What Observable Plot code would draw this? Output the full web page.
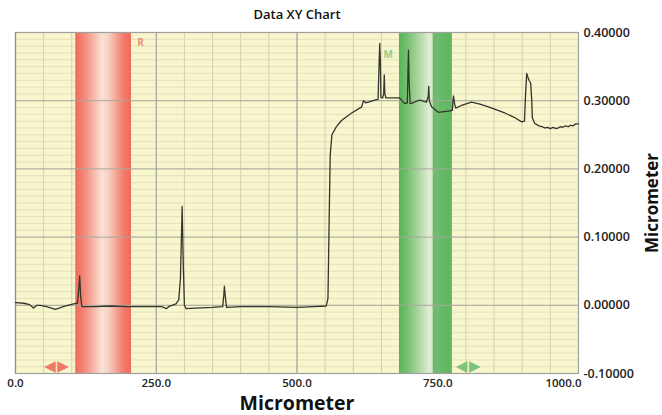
<!DOCTYPE html>
<html>
<head>
<meta charset="utf-8">
<script src="https://cdn.jsdelivr.net/npm/d3@7"></script>
<script src="https://cdn.jsdelivr.net/npm/@observablehq/plot@0.6"></script>
<style>
  html, body { margin: 0; padding: 0; background: #fff; }
</style>
</head>
<body>
<div id="chart"></div>
<script>
const title = "Data XY Chart";
const xLabel = "Micrometer";
const yLabel = "Micrometer";

const xs = [0, 15, 25, 32, 38, 44, 55, 71, 85, 103, 110, 112, 114, 116, 118, 140, 170, 200, 230, 260, 268, 272, 285, 290, 293, 296, 298, 300, 303, 320, 350, 368, 370, 371, 373, 375, 400, 450, 500, 530, 552, 555, 557, 559, 562, 570, 579, 597, 615, 618, 622, 627, 638, 644, 646, 647, 648, 649, 652, 654, 655, 656, 658, 664, 682, 691, 696, 697, 698, 699, 701, 703, 718, 730, 733, 734, 735, 739, 751, 771, 776, 777, 778, 780, 782, 792, 810, 825, 840, 869, 885, 899, 904, 906, 908, 910, 912, 915, 917, 918, 922, 926, 930, 935, 940, 945, 950, 955, 960, 964, 968, 972, 976, 982, 986, 990, 995, 1000];
const ys = [0.004, 0.003, 0.001, -0.004, 0.000, 0.000, -0.002, -0.006, -0.002, 0.002, 0.003, 0.02, 0.043, 0.01, -0.002, -0.002, -0.001, -0.002, -0.002, -0.002, -0.005, -0.002, 0.002, 0.008, 0.04, 0.145, 0.06, 0.0, -0.005, -0.004, -0.003, -0.002, 0.015, 0.028, 0.01, -0.003, -0.002, -0.002, -0.003, -0.002, -0.001, 0.01, 0.12, 0.22, 0.25, 0.262, 0.271, 0.282, 0.291, 0.300, 0.297, 0.298, 0.301, 0.302, 0.36, 0.384, 0.36, 0.305, 0.304, 0.31, 0.338, 0.31, 0.304, 0.304, 0.304, 0.296, 0.297, 0.34, 0.374, 0.33, 0.296, 0.296, 0.301, 0.298, 0.306, 0.321, 0.3, 0.291, 0.283, 0.285, 0.286, 0.3, 0.307, 0.295, 0.289, 0.293, 0.298, 0.295, 0.291, 0.282, 0.276, 0.269, 0.27, 0.31, 0.340, 0.335, 0.33, 0.326, 0.3, 0.275, 0.267, 0.265, 0.263, 0.262, 0.260, 0.261, 0.259, 0.261, 0.259, 0.260, 0.262, 0.261, 0.263, 0.262, 0.264, 0.263, 0.266, 0.266];

const xTicks = [0, 250, 500, 750, 1000];
const yTicks = [-0.1, 0, 0.1, 0.2, 0.3, 0.4];

const bandNames = ["R", "M"];
const bandStart = [107, 682];
const bandEnd = [206, 776];
const labelX = [222, 662];
const labelY = [0.385, 0.368];
const markerX = [73, 804];

const data = xs.map((x, i) => ({x, y: ys[i]}));
const bands = bandNames.map((name, i) => ({name, x1: bandStart[i], x2: bandEnd[i], lx: labelX[i], ly: labelY[i], marker: markerX[i]}));

const font = "'Open Sans', 'DejaVu Sans', sans-serif";

const defs = () => {
  const g = d3.create("svg:g");
  const d = g.append("defs");
  const r = d.append("linearGradient").attr("id", "gradR").attr("x1", "0").attr("x2", "1").attr("y1", "0").attr("y2", "0");
  [["0%", "#f06a58"], ["18%", "#f48c7c"], ["48%", "#f9e2d6"], ["60%", "#f7d0c2"], ["85%", "#f28070"], ["100%", "#f06a58"]]
    .forEach(([o, c]) => r.append("stop").attr("offset", o).attr("stop-color", c));
  const m = d.append("linearGradient").attr("id", "gradM").attr("x1", "0").attr("x2", "1").attr("y1", "0").attr("y2", "0");
  [["0%", "#58b458"], ["12%", "#6cbd68"], ["40%", "#b5d9a8"], ["58%", "#e2eed6"], ["63%", "#cfe6c4"], ["64%", "#9cb89c"], ["65%", "#6bbd6b"], ["100%", "#5fb75f"]]
    .forEach(([o, c]) => m.append("stop").attr("offset", o).attr("stop-color", c));
  return g.node();
};

const chart = Plot.plot({
  width: 662,
  height: 415,
  marginLeft: 15,
  marginRight: 84,
  marginTop: 32,
  marginBottom: 42,
  style: {background: "#fff", fontFamily: font, color: "#222"},
  x: {domain: [0, 1000], axis: null},
  y: {domain: [-0.1, 0.4], axis: null},
  marks: [
    defs,
    Plot.frame({fill: "#f8f6cc", stroke: null}),
    Plot.gridY(d3.range(-100, 401, 10).map(v => v / 1000), {stroke: "#dedcba", strokeOpacity: 1, strokeWidth: 0.8}),
    Plot.gridX(d3.range(0, 1001, 50), {stroke: "#d2d1b4", strokeOpacity: 1, strokeWidth: 1}),
    Plot.rect(bands.filter(b => b.name === "R"), {x1: "x1", x2: "x2", y1: -0.1, y2: 0.4, fill: "url(#gradR)"}),
    Plot.rect(bands.filter(b => b.name === "M"), {x1: "x1", x2: "x2", y1: -0.1, y2: 0.4, fill: "url(#gradM)"}),
    Plot.gridY(yTicks, {stroke: "#a8a89a", strokeOpacity: 1, strokeWidth: 1}),
    Plot.gridX(xTicks, {stroke: "#a0a0a0", strokeOpacity: 1, strokeWidth: 1}),
    Plot.frame({stroke: "#a0a0a0", strokeWidth: 1.2}),
    Plot.ruleX([0], {stroke: "#8090b8", strokeWidth: 1.2}),
    Plot.line(data, {x: "x", y: "y", stroke: "#35352c", strokeWidth: 1.3, strokeLinejoin: "round"}),
    Plot.text(bands, {x: "lx", y: "ly", text: "name", fill: d => d.name === "R" ? "#f0907c" : "#94cc90", fontSize: 10, fontWeight: "bold", fontFamily: font}),
    Plot.text(bands, {x: "marker", y: -0.09, text: () => "\u25C0\u200A\u25B6", fill: d => d.name === "R" ? "#f07a66" : "#7cc47c", fontSize: 15, fontFamily: "DejaVu Sans"}),
    Plot.axisX(xTicks.slice(0, 4), {tickSize: 0, tickPadding: 5, tickFormat: d => d.toFixed(1), fontSize: 11.5, fontWeight: 600, fill: "#222", label: null}),
    Plot.axisX([1000], {tickSize: 0, tickPadding: 5, tickFormat: d => d.toFixed(1), textAnchor: "end", dx: 3, fontSize: 11.5, fontWeight: 600, fill: "#222", label: null}),
    Plot.axisY(yTicks, {anchor: "right", tickSize: 0, tickPadding: 5, tickFormat: d => d.toFixed(5), fontSize: 12.5, fontWeight: 600, fill: "#222", label: null}),
    Plot.text([title], {frameAnchor: "top", lineAnchor: "middle", dy: -18, fontSize: 13, fontWeight: 600, fill: "#111", fontFamily: font}),
    Plot.text([xLabel], {frameAnchor: "bottom", lineAnchor: "middle", dy: 30, fontSize: 19.5, fontWeight: "bold", fill: "#111", fontFamily: font}),
    Plot.text([yLabel], {frameAnchor: "right", textAnchor: "middle", lineAnchor: "middle", dx: 74, rotate: -90, fontSize: 17, fontWeight: "bold", fill: "#111", fontFamily: font})
  ]
});
document.getElementById("chart").appendChild(chart);
</script>
</body>
</html>
